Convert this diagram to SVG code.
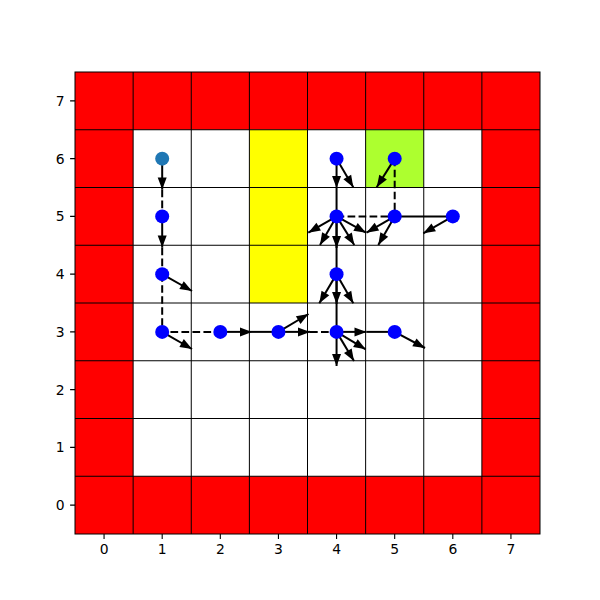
<svg xmlns="http://www.w3.org/2000/svg" width="600" height="600" viewBox="0 0 600 600">
<style>
.grid{stroke:#000;stroke-width:1;fill:none}
.tick{stroke:#000;stroke-width:1.1}
.lbl{font-family:"DejaVu Sans",sans-serif;font-size:13.9px;fill:#000}
.xl{text-anchor:middle}
.yl{text-anchor:end}
.arr{stroke:#000;stroke-width:2;fill:none;marker-end:url(#ah)}
.sol{stroke:#000;stroke-width:2;fill:none}
.dsh{stroke:#000;stroke-width:2;fill:none;stroke-dasharray:7.7 3.3}
.node{fill:#0000ff}
</style>
<defs>
<marker id="ah" markerUnits="userSpaceOnUse" markerWidth="14" markerHeight="12" refX="12" refY="5" orient="auto" overflow="visible">
<path d="M0,0.5 L12,5 L0,9.5 Z" fill="#000"/>
</marker>
</defs>
<rect x="0" y="0" width="600" height="600" fill="#fff"/>
<g id="cells">
<rect x="75" y="72" width="465" height="57.75" fill="#ff0000"/>
<rect x="75" y="476.25" width="465" height="57.75" fill="#ff0000"/>
<rect x="75" y="72" width="58.125" height="462" fill="#ff0000"/>
<rect x="481.875" y="72" width="58.125" height="462" fill="#ff0000"/>
<rect x="249.375" y="129.75" width="58.125" height="173.25" fill="#ffff00"/>
<rect x="365.625" y="129.75" width="58.125" height="57.75" fill="#adff2f"/>
</g>
<g id="gridlines" class="grid">
<path d="M133.125,72V534M191.25,72V534M249.375,72V534M307.5,72V534M365.625,72V534M423.75,72V534M481.875,72V534"/>
<path d="M75,129.75H540M75,187.5H540M75,245.25H540M75,303H540M75,360.75H540M75,418.5H540M75,476.25H540"/>
<rect x="75" y="72" width="465" height="462"/>
</g>
<g id="ticks" class="tick">
<path d="M104.06,534v4.9M162.19,534v4.9M220.31,534v4.9M278.44,534v4.9M336.56,534v4.9M394.69,534v4.9M452.81,534v4.9M510.94,534v4.9"/>
<path d="M75,505.13h-4.9M75,447.38h-4.9M75,389.63h-4.9M75,331.88h-4.9M75,274.13h-4.9M75,216.38h-4.9M75,158.63h-4.9M75,100.88h-4.9"/>
</g>
<g id="labels" class="lbl">
<text class="xl" x="104.06" y="554">0</text>
<text class="xl" x="162.19" y="554">1</text>
<text class="xl" x="220.31" y="554">2</text>
<text class="xl" x="278.44" y="554">3</text>
<text class="xl" x="336.56" y="554">4</text>
<text class="xl" x="394.69" y="554">5</text>
<text class="xl" x="452.81" y="554">6</text>
<text class="xl" x="510.94" y="554">7</text>
<text class="yl" x="64.5" y="510.1">0</text>
<text class="yl" x="64.5" y="452.4">1</text>
<text class="yl" x="64.5" y="394.6">2</text>
<text class="yl" x="64.5" y="336.9">3</text>
<text class="yl" x="64.5" y="279.1">4</text>
<text class="yl" x="64.5" y="221.4">5</text>
<text class="yl" x="64.5" y="163.6">6</text>
<text class="yl" x="64.5" y="105.9">7</text>
</g>
<g id="connectors">
<path class="dsh" d="M162.19,189.5V216.38"/>
<path class="dsh" d="M162.19,247.5V274.13"/>
<path class="dsh" d="M162.19,274.13V331.88H220.31"/>
<path class="sol" d="M252,331.88H278.44"/>
<path class="dsh" d="M310,331.88H336.56"/>
<path class="sol" d="M366.5,331.88H394.69"/>
<path class="sol" d="M336.56,187.5V331.88"/>
<path class="dsh" d="M336.56,216.38H394.69"/>
<path class="dsh" d="M394.69,158.63V216.38"/>
<path class="sol" d="M394.69,216.38H452.81"/>
<line class="arr" x1="162.19" y1="158.63" x2="162.19" y2="189.5"/>
<line class="arr" x1="162.19" y1="216.38" x2="162.19" y2="247.5"/>
<line class="arr" x1="162.19" y1="274.13" x2="192" y2="291"/>
<line class="arr" x1="162.19" y1="331.88" x2="192" y2="349"/>
<line class="arr" x1="220.31" y1="331.88" x2="252" y2="331.88"/>
<line class="arr" x1="278.44" y1="331.88" x2="308.5" y2="314"/>
<line class="arr" x1="278.44" y1="331.88" x2="310" y2="331.88"/>
<line class="arr" x1="336.56" y1="331.88" x2="336.56" y2="366"/>
<line class="arr" x1="336.56" y1="331.88" x2="366.5" y2="331.88"/>
<line class="arr" x1="336.56" y1="331.88" x2="365.7" y2="349.3"/>
<line class="arr" x1="336.56" y1="331.88" x2="354" y2="361"/>
<line class="arr" x1="394.69" y1="331.88" x2="425" y2="348"/>
<line class="arr" x1="336.56" y1="274.13" x2="319.3" y2="303.3"/>
<line class="arr" x1="336.56" y1="274.13" x2="336.56" y2="304"/>
<line class="arr" x1="336.56" y1="274.13" x2="353.3" y2="303.3"/>
<line class="arr" x1="336.56" y1="216.38" x2="308.3" y2="232.7"/>
<line class="arr" x1="336.56" y1="216.38" x2="320" y2="245"/>
<line class="arr" x1="336.56" y1="216.38" x2="336.56" y2="248"/>
<line class="arr" x1="336.56" y1="216.38" x2="354.3" y2="245"/>
<line class="arr" x1="336.56" y1="216.38" x2="366" y2="232.7"/>
<line class="arr" x1="336.56" y1="158.63" x2="336.56" y2="188"/>
<line class="arr" x1="336.56" y1="158.63" x2="353.3" y2="187.3"/>
<line class="arr" x1="394.69" y1="158.63" x2="376.7" y2="187.3"/>
<line class="arr" x1="394.69" y1="216.38" x2="366.5" y2="232.7"/>
<line class="arr" x1="394.69" y1="216.38" x2="378.3" y2="245"/>
<line class="arr" x1="452.81" y1="216.38" x2="423.3" y2="233.3"/>
</g>
<g id="n1_6"><circle cx="162.19" cy="158.63" r="7" fill="#1f77b4"/></g>
<g id="n1_5"><circle class="node" cx="162.19" cy="216.38" r="7"/></g>
<g id="n1_4"><circle class="node" cx="162.19" cy="274.13" r="7"/></g>
<g id="n1_3"><circle class="node" cx="162.19" cy="331.88" r="7"/></g>
<g id="n2_3"><circle class="node" cx="220.31" cy="331.88" r="7"/></g>
<g id="n3_3"><circle class="node" cx="278.44" cy="331.88" r="7"/></g>
<g id="n4_3"><circle class="node" cx="336.56" cy="331.88" r="7"/></g>
<g id="n5_3"><circle class="node" cx="394.69" cy="331.88" r="7"/></g>
<g id="n4_4"><circle class="node" cx="336.56" cy="274.13" r="7"/></g>
<g id="n4_5"><circle class="node" cx="336.56" cy="216.38" r="7"/></g>
<g id="n4_6"><circle class="node" cx="336.56" cy="158.63" r="7"/></g>
<g id="n5_6"><circle class="node" cx="394.69" cy="158.63" r="7"/></g>
<g id="n5_5"><circle class="node" cx="394.69" cy="216.38" r="7"/></g>
<g id="n6_5"><circle class="node" cx="452.81" cy="216.38" r="7"/></g>
</svg>
